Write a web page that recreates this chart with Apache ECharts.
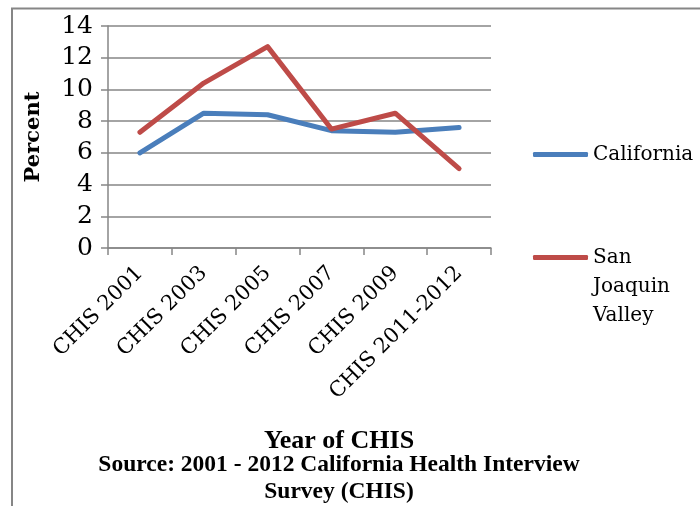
<!DOCTYPE html>
<html><head><meta charset="utf-8">
<script src="https://cdn.jsdelivr.net/npm/echarts@6/dist/echarts.min.js"></script>
<style>html,body{margin:0;padding:0;background:#fff}#c{width:700px;height:506px}</style>
</head><body><div id="c"></div>
<script>
const categories = ['CHIS 2001','CHIS 2003','CHIS 2005','CHIS 2007','CHIS 2009','CHIS 2011-2012'];
const california = [6.0, 8.5, 8.4, 7.4, 7.3, 7.6];
const sanJoaquin = [7.3, 10.4, 12.7, 7.5, 8.5, 5.0];
const yTicks = {min: 0, max: 14, interval: 2};

const serif = 'Liberation Serif';
const cambria = 'DejaVu Serif';
const chart = echarts.init(document.getElementById('c'), null, {renderer: 'canvas'});
chart.setOption({
  animation: false,
  backgroundColor: '#fff',
  title: [
    {text: 'Year of CHIS', left: 334, top: 423, textAlign: 'center',
     textStyle: {fontFamily: serif, fontWeight: 'bold', fontSize: 26, color: '#000'}},
    {text: 'Source: 2001 - 2012 California Health Interview\nSurvey (CHIS)', left: 334, top: 446, textAlign: 'center',
     textStyle: {fontFamily: serif, fontWeight: 'bold', fontSize: 23.5, lineHeight: 27, color: '#000'}}
  ],
  grid: {left: 108, right: 209, top: 26, bottom: 258, containLabel: false},
  xAxis: {
    type: 'category', data: categories, boundaryGap: true,
    axisLine: {lineStyle: {color: '#868686', width: 1.5}},
    axisTick: {show: true, length: 7, lineStyle: {color: '#868686', width: 1.5}},
    axisLabel: {rotate: 45, margin: 22, interval: 0, fontFamily: cambria, fontSize: 21, color: '#000'}
  },
  yAxis: {
    type: 'value', min: yTicks.min, max: yTicks.max, interval: yTicks.interval,
    name: 'Percent', nameLocation: 'middle', nameGap: 64, nameRotate: 90,
    nameTextStyle: {fontFamily: cambria, fontWeight: 'bold', fontSize: 21, color: '#000'},
    axisLine: {show: true, lineStyle: {color: '#868686', width: 1.5}},
    axisTick: {show: true, length: 7, lineStyle: {color: '#868686', width: 1.5}},
    axisLabel: {margin: 15, fontFamily: cambria, fontSize: 25, color: '#000'},
    splitLine: {lineStyle: {color: '#868686', width: 1.5}}
  },
  legend: [
    {data: ['California'], orient: 'vertical', left: 533, top: 140, padding: 0,
     icon: 'roundRect', itemWidth: 55, itemHeight: 5, itemGap: 0,
     textStyle: {fontFamily: cambria, fontSize: 20, lineHeight: 29, color: '#000'}},
    {data: ['San Joaquin Valley'], orient: 'vertical', left: 533, top: 185, padding: 0,
     icon: 'roundRect', itemWidth: 55, itemHeight: 5, itemGap: 0,
     formatter: function(){ return '\n\nSan\nJoaquin\nValley'; },
     textStyle: {fontFamily: cambria, fontSize: 20, lineHeight: 29, color: '#000'}}
  ],
  series: [
    {name: 'California', type: 'line', data: california, symbol: 'none',
     lineStyle: {width: 5, color: '#4a7ebb', cap: 'round', join: 'round'}, itemStyle: {color: '#4a7ebb'}},
    {name: 'San Joaquin Valley', type: 'line', data: sanJoaquin, symbol: 'none',
     lineStyle: {width: 5, color: '#be4b48', cap: 'round', join: 'round'}, itemStyle: {color: '#be4b48'}}
  ],
  graphic: [
    {type: 'polyline', shape: {points: [[12, 520], [12, 8.5], [710, 8.5]]}, silent: true,
     style: {stroke: '#868686', lineWidth: 2, fill: null}}
  ]
});
</script></body></html>
